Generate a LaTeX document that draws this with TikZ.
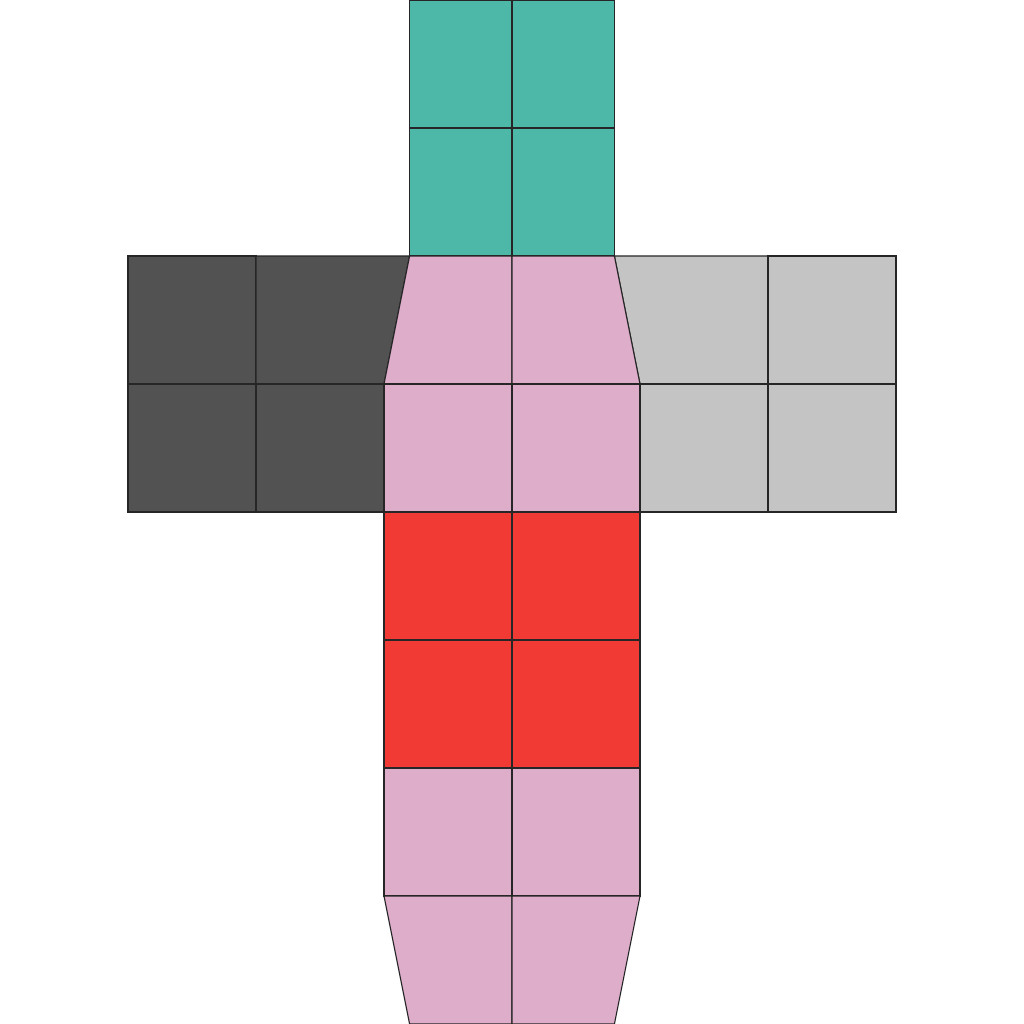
\documentclass[tikz,border=0pt]{standalone}
\definecolor{teal1}{RGB}{77,184,168}
\definecolor{dgray}{RGB}{82,82,82}
\definecolor{lgray}{RGB}{196,196,196}
\definecolor{pink1}{RGB}{222,173,202}
\definecolor{red1}{RGB}{241,58,51}
\begin{document}
\begin{tikzpicture}[x=1pt,y=-1pt,
  cell/.style={draw=black!85,line width=1.1pt,line join=miter}]
\useasboundingbox[fill=white] (0,0) rectangle (1024,1024);
% teal
\foreach \x in {409.6,512}{\foreach \y in {0,128}{
  \pgfmathsetmacro{\xx}{\x==409.6 ? 512 : 614.4}
  \filldraw[cell,fill=teal1] (\x,\y) rectangle (\xx,\y+128);}}
% dark gray
\filldraw[cell,fill=dgray] (128,256) rectangle (256,384);
\filldraw[cell,fill=dgray] (256,256) -- (409.6,256) -- (384,384) -- (256,384) -- cycle;
\filldraw[cell,fill=dgray] (128,384) rectangle (256,512);
\filldraw[cell,fill=dgray] (256,384) rectangle (384,512);
% light gray
\filldraw[cell,fill=lgray] (614.4,256) -- (768,256) -- (768,384) -- (640,384) -- cycle;
\filldraw[cell,fill=lgray] (768,256) rectangle (896,384);
\filldraw[cell,fill=lgray] (640,384) rectangle (768,512);
\filldraw[cell,fill=lgray] (768,384) rectangle (896,512);
% pink top trapezoid
\filldraw[cell,fill=pink1] (409.6,256) -- (512,256) -- (512,384) -- (384,384) -- cycle;
\filldraw[cell,fill=pink1] (512,256) -- (614.4,256) -- (640,384) -- (512,384) -- cycle;
\filldraw[cell,fill=pink1] (384,384) rectangle (512,512);
\filldraw[cell,fill=pink1] (512,384) rectangle (640,512);
% red
\foreach \y in {512,640}{
  \filldraw[cell,fill=red1] (384,\y) rectangle (512,\y+128);
  \filldraw[cell,fill=red1] (512,\y) rectangle (640,\y+128);}
% pink bottom
\filldraw[cell,fill=pink1] (384,768) rectangle (512,896);
\filldraw[cell,fill=pink1] (512,768) rectangle (640,896);
\filldraw[cell,fill=pink1] (384,896) -- (512,896) -- (512,1024) -- (409.6,1024) -- cycle;
\filldraw[cell,fill=pink1] (512,896) -- (640,896) -- (614.4,1024) -- (512,1024) -- cycle;
\end{tikzpicture}
\end{document}
